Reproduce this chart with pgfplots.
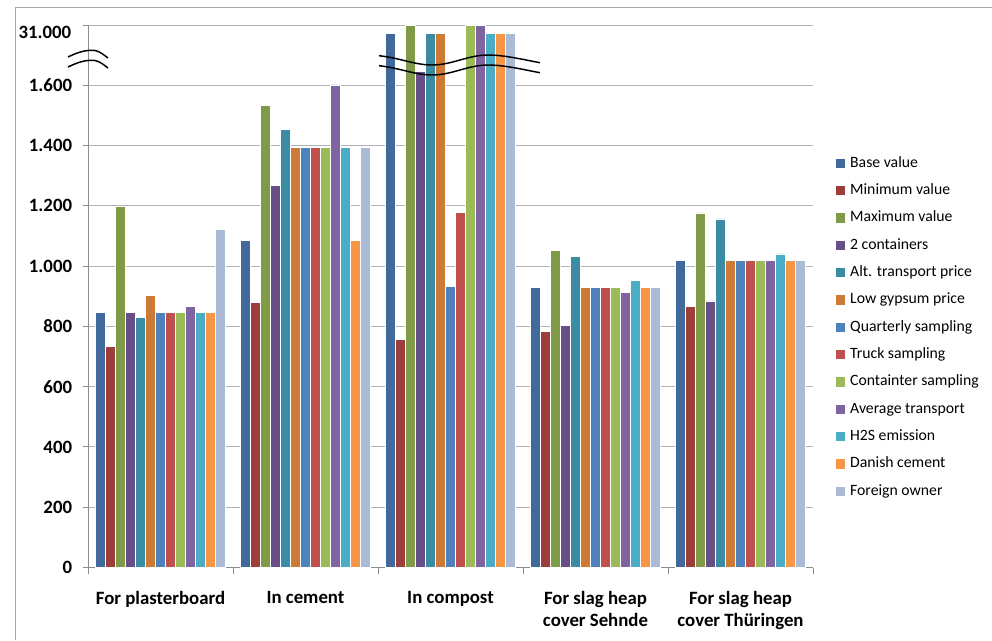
\documentclass[border=0pt]{standalone}
\usepackage{fontspec}
\setmainfont{Carlito}
\usepackage{pgfplots}
\usepackage{pgfplotstable}
\pgfplotsset{compat=1.18}

% series colours
\definecolor{cBase}{HTML}{41699B}
\definecolor{cMin}{HTML}{9D3E3B}
\definecolor{cMax}{HTML}{7F9B48}
\definecolor{cCont}{HTML}{684E87}
\definecolor{cAlt}{HTML}{3A8CA5}
\definecolor{cLowGyp}{HTML}{CD7A37}
\definecolor{cQuart}{HTML}{4F81BD}
\definecolor{cTruck}{HTML}{C0504D}
\definecolor{cContS}{HTML}{9BBB59}
\definecolor{cAvg}{HTML}{8064A2}
\definecolor{cHTS}{HTML}{4BACC6}
\definecolor{cDanish}{HTML}{F79646}
\definecolor{cForeign}{HTML}{AABAD7}
\definecolor{gridgray}{HTML}{B2B2B2}
\definecolor{axisgray}{HTML}{8C8C8C}
\definecolor{framegray}{HTML}{A6A6A6}

% cost per scenario and use (values above 1.800 are cut at the break)
\pgfplotstableread{
x base minv maxv cont2 alt lowgyp quart truck conts avgtr hts danish foreign
0 846 733 1199 846 830 904 846 846 846 866 846 846 1122
1 1085 880 1534 1267 1453 1394 1394 1394 1394 1601 1394 1085 1394
2 1772 758 1800 1645 1772 1772 933 1179 1800 1800 1772 1772 1772
3 930 783 1052 803 1033 930 930 930 930 913 953 930 930
4 1019 866 1177 885 1157 1019 1019 1019 1019 1019 1041 1019 1019
}\datatable

\newcommand{\labfont}{\bfseries\fontsize{14.1}{16.5}\selectfont}
\newcommand{\legfont}{\fontsize{11.8}{14}\selectfont}

\begin{document}
\begin{tikzpicture}
\useasboundingbox (0,0) rectangle (744pt,-480pt);
\draw[framegray, line width=0.75pt] (11.25pt,-480pt) -- (11.25pt,-5.25pt) -- (744pt,-5.25pt);
\begin{axis}[
  at={(66pt,-425.625pt)}, anchor=south west,
  scale only axis, width=543.75pt, height=406.875pt,
  ybar=0pt, bar width=7.5pt,
  xmin=-0.5, xmax=4.5, ymin=0, ymax=1800,
  axis x line*=bottom, axis y line*=left,
  axis line style={draw=axisgray, line width=0.75pt},
  xtick={0,...,4},
  xticklabels={For plasterboard, In cement, In compost, {For slag heap\\cover Sehnde}, {For slag heap\\cover Thüringen}},
  minor xtick={-0.5,0.5,...,4.5},
  major x tick style={draw=none},
  ytick={0,200,...,1800},
  yticklabels={0,200,400,600,800,1.000,1.200,1.400,1.600,{}},
  tick align=outside, major tick length=3.75pt, minor tick length=4.5pt,
  tick style={draw=axisgray, line width=0.75pt},
  ymajorgrids, grid style={draw=gridgray, line width=0.75pt},
  xticklabel style={font=\labfont, align=center, anchor=north, inner sep=0pt, yshift=-14pt},
  yticklabel style={font=\labfont, anchor=east, inner sep=0pt, xshift=-8pt},
  every axis plot/.append style={draw=white, line width=0.35pt},
  legend cell align=left,
  legend image code/.code={\fill[#1,draw=none] (0pt,-3.4pt) rectangle (6.8pt,3.4pt);},
  legend style={at={(rel axis cs:1.026,0.764)}, anchor=north west, draw=none, fill=none,
    font=\legfont, row sep=9.5pt, column sep=3.75pt,
    nodes={inner sep=0pt, text height=8.5pt, text depth=2.5pt}},
]
\addplot[fill=cBase] table[x=x,y=base]{\datatable};
\addplot[fill=cMin] table[x=x,y=minv]{\datatable};
\addplot[fill=cMax] table[x=x,y=maxv]{\datatable};
\addplot[fill=cCont] table[x=x,y=cont2]{\datatable};
\addplot[fill=cAlt] table[x=x,y=alt]{\datatable};
\addplot[fill=cLowGyp] table[x=x,y=lowgyp]{\datatable};
\addplot[fill=cQuart] table[x=x,y=quart]{\datatable};
\addplot[fill=cTruck] table[x=x,y=truck]{\datatable};
\addplot[fill=cContS] table[x=x,y=conts]{\datatable};
\addplot[fill=cAvg] table[x=x,y=avgtr]{\datatable};
\addplot[fill=cHTS] table[x=x,y=hts]{\datatable};
\addplot[fill=cDanish] table[x=x,y=danish]{\datatable};
\addplot[fill=cForeign] table[x=x,y=foreign]{\datatable};
\legend{Base value, Minimum value, Maximum value, 2 containers, Alt. transport price,
  Low gypsum price, Quarterly sampling, Truck sampling, Containter sampling,
  Average transport, H2S emission, Danish cement, Foreign owner}
\end{axis}
% axis break marks, in pixel-like units from the top left corner
\begin{scope}[x=0.75pt, y=-0.75pt, line width=1.1pt]
  \node[anchor=east, font=\labfont, inner sep=0pt] at (72,32.7) {31.000};
  \foreach \d in {0,10} {
    \draw[yshift=-0.75*\d pt] (68,57) .. controls (78,52) and (87,49.5) .. (95,50.5)
      .. controls (100,51.5) and (104,55) .. (108,58);
    \draw[yshift=-0.75*\d pt] (379,55.7) .. controls (400,58) and (415,65) .. (432,65)
      .. controls (452,65) and (468,55) .. (488,55)
      .. controls (505,55) and (525,60) .. (540,62.7);
  }
\end{scope}
\end{tikzpicture}
\end{document}
